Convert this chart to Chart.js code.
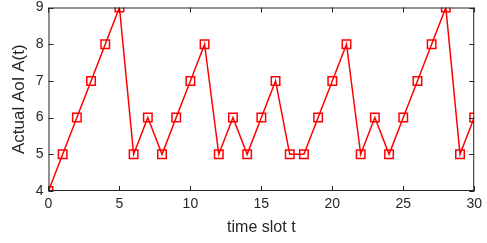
<!DOCTYPE html>
<html>
<head>
<meta charset="utf-8">
<script src="https://cdn.jsdelivr.net/npm/chart.js@4.4.1/dist/chart.umd.min.js"></script>
<style>
  html, body { margin: 0; padding: 0; background: #fff; }
  #wrap { width: 487px; height: 243px; }
</style>
</head>
<body>
<div id="wrap"><canvas id="myChart" width="487" height="243"></canvas></div>
<script>
// data
const timeSlots = [0,1,2,3,4,5,6,7,8,9,10,11,12,13,14,15,16,17,18,19,20,21,22,23,24,25,26,27,28,29,30];
const aoiValues = [4,5,6,7,8,9,5,6,5,6,7,8,5,6,5,6,7,5,5,6,7,8,5,6,5,6,7,8,9,5,6];
const xTicks = [0,5,10,15,20,25,30];
const yTicks = [4,5,6,7,8,9];

const axisColor = '#262626';

// matlab style box with inward ticks
const boxTicks = {
    id: 'boxTicks',
    afterDatasetsDraw(chart) {
        const { ctx, chartArea: a, scales } = chart;
        ctx.save();
        ctx.strokeStyle = axisColor;
        ctx.lineWidth = 1;
        ctx.strokeRect(a.left + 0.5, a.top + 0.5, a.right - a.left - 1, a.bottom - a.top - 1);
        ctx.beginPath();
        xTicks.forEach(v => {
            const x = Math.round(scales.x.getPixelForValue(v)) + 0.5;
            ctx.moveTo(x, a.bottom); ctx.lineTo(x, a.bottom - 5);
            ctx.moveTo(x, a.top); ctx.lineTo(x, a.top + 5);
        });
        yTicks.forEach(v => {
            const y = Math.round(scales.y.getPixelForValue(v)) + 0.5;
            ctx.moveTo(a.left, y); ctx.lineTo(a.left + 5, y);
            ctx.moveTo(a.right, y); ctx.lineTo(a.right - 5, y);
        });
        ctx.stroke();
        ctx.restore();
    }
};

const ctx = document.getElementById('myChart').getContext('2d');

const config = {
    type: 'line',
    data: {
        datasets: [{
            data: timeSlots.map((t, i) => ({ x: t, y: aoiValues[i] })),
            borderColor: '#ff0000',
            borderWidth: 1.5,
            pointStyle: 'rect',
            pointRadius: 6,
            pointBorderWidth: 1.5,
            pointBorderColor: '#ff0000',
            pointBackgroundColor: 'rgba(0,0,0,0)',
            tension: 0
        }]
    },
    options: {
        responsive: false,
        animation: false,
        layout: { padding: { top: 7, right: 11, left: 10, bottom: 4 } },
        plugins: { legend: { display: false }, tooltip: { enabled: false } },
        scales: {
            x: {
                type: 'linear',
                min: 0, max: 30,
                afterBuildTicks: s => { s.ticks = xTicks.map(v => ({ value: v })); },
                grid: { display: false, drawTicks: false },
                border: { display: false },
                ticks: { color: axisColor, font: { family: 'Liberation Sans, Arial', size: 14 }, padding: 5, maxRotation: 0 },
                title: { display: true, text: 'time slot t', color: axisColor, font: { family: 'Liberation Sans, Arial', size: 16 }, padding: { top: 0, bottom: 2 } }
            },
            y: {
                min: 4, max: 9,
                afterBuildTicks: s => { s.ticks = yTicks.map(v => ({ value: v })); },
                afterFit: s => { s.paddingTop = 0; s.paddingBottom = 0; },
                grid: { display: false, drawTicks: false },
                border: { display: false },
                ticks: { color: axisColor, font: { family: 'Liberation Sans, Arial', size: 14 }, padding: 5 },
                title: { display: true, text: 'Actual AoI A(t)', color: axisColor, font: { family: 'Liberation Sans, Arial', size: 17, lineHeight: 1.1 }, padding: { top: 0, bottom: 2 } }
            }
        }
    },
    plugins: [boxTicks]
};

const myChart = new Chart(ctx, config);
</script>
</body>
</html>
